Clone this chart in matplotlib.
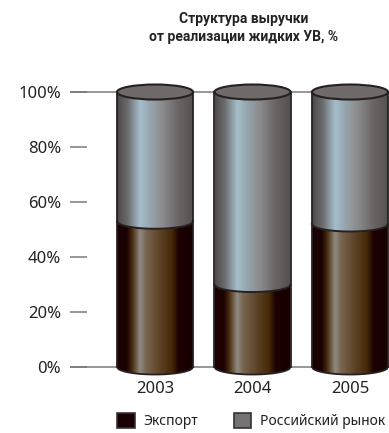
import numpy as np
import matplotlib.pyplot as plt
from matplotlib.path import Path
from matplotlib.patches import PathPatch, Ellipse, Patch
from matplotlib.colors import LinearSegmentedColormap

plt.rcParams['font.family'] = ['Noto Sans', 'DejaVu Sans']

years = ['2003', '2004', '2005']
export = [53, 30, 52]
domestic = [47, 70, 48]
y_ticks = [0, 20, 40, 60, 80, 100]
y_labels = ['0%', '20%', '40%', '60%', '80%', '100%']
title = 'Структура выручки\nот реализации жидких УВ, %'
series_names = ['Экспорт', 'Российский рынок']

# horizontal shading across a cylinder body
export_cmap = LinearSegmentedColormap.from_list('export', [
    (0.0, '#1a0002'), (0.13, '#1c0303'), (0.2, '#4a3010'), (0.3, '#8f8a84'),
    (0.38, '#78644e'), (0.55, '#5e4428'), (0.72, '#442806'), (0.8, '#1c0202'),
    (1.0, '#180000')])
domestic_cmap = LinearSegmentedColormap.from_list('domestic', [
    (0.0, '#4c4848'), (0.14, '#6c6c6e'), (0.3, '#a5becb'), (0.42, '#97a7af'),
    (0.6, '#8a8a8c'), (0.8, '#6a6464'), (1.0, '#555050')])

W = 0.39   # half width of a cylinder, x units
H = 2.73   # half height of the elliptic ends, y units
EDGE = '#262020'

fig = plt.figure(figsize=(3.89, 4.33), dpi=100)
ax = fig.add_axes([70 / 389, 0.0762, 319 / 389, 0.7621])
ax.set_xlim(-0.872, 2.4)
ax.set_ylim(-12, 108)

for y in (0, 100):
    ax.axhline(y, color='#7a7a7a', lw=1.1, zorder=0)


def lower_arc(xc, y, n=60):
    t = np.linspace(-1, 1, n)
    return xc + W * t, y - H * np.sqrt(1 - t ** 2)


def segment(xc, y0, y1, cmap):
    xs, b = lower_arc(xc, y0)
    _, t = lower_arc(xc, y1)
    verts = np.vstack([np.column_stack([xs, b]),
                       np.column_stack([xs[::-1], t[::-1]]),
                       [[xs[0], b[0]]]])
    patch = PathPatch(Path(verts, closed=True), facecolor='none',
                      edgecolor='none')
    ax.add_patch(patch)
    grad = np.linspace(0, 1, 256).reshape(1, -1)
    im = ax.imshow(grad, cmap=cmap, aspect='auto', interpolation='bilinear',
                   extent=[xc - W, xc + W, y0 - H, y1 + H], zorder=2)
    im.set_clip_path(patch)


for i, (e, d) in enumerate(zip(export, domestic)):
    segment(i, 0, e, export_cmap)
    segment(i, e, e + d, domestic_cmap)
    top = e + d
    # outline: sides, bottom arc, boundary arc
    ax.plot([i - W, i - W], [0, top], color=EDGE, lw=1.3, zorder=3)
    ax.plot([i + W, i + W], [0, top], color=EDGE, lw=1.3, zorder=3)
    ax.plot(*lower_arc(i, 0), color=EDGE, lw=1.3, zorder=3)
    ax.plot(*lower_arc(i, e), color=EDGE, lw=1.4, zorder=3)
    ax.add_patch(Ellipse((i, top), 2 * W, 2 * H, facecolor='#706a68',
                         edgecolor=EDGE, lw=1.5, zorder=4))
    ax.text(i, -8, years[i], ha='center', va='center', fontsize=12,
            color='#222222')

ax.set_xticks([])
ax.set_yticks(y_ticks)
ax.set_yticklabels(y_labels)
ax.tick_params(axis='y', direction='in', length=12.2, width=1.1,
               color='#7a7a7a', pad=6.5, labelsize=12, labelcolor='#222222')
for s in ax.spines.values():
    s.set_visible(False)
ax.patch.set_visible(False)

fig.text(244 / 389, 1 - 28 / 433, title, ha='center', va='center',
         fontsize=10, fontweight='bold', family=['Roboto', 'DejaVu Sans'],
         color='#222222', linespacing=1.3)

handles = [Patch(facecolor='#1a0002', edgecolor='#333333', lw=1.2),
           Patch(facecolor='#777272', edgecolor='#333333', lw=1.2)]
fig.legend(handles, series_names, loc='center', ncol=2, frameon=False,
           bbox_to_anchor=(251 / 389, 12 / 433), fontsize=10,
           handlelength=1.25, handleheight=1.25, handletextpad=0.6,
           columnspacing=2.6, borderpad=0, labelcolor='#222222')

fig.savefig('out.png', dpi=100)
